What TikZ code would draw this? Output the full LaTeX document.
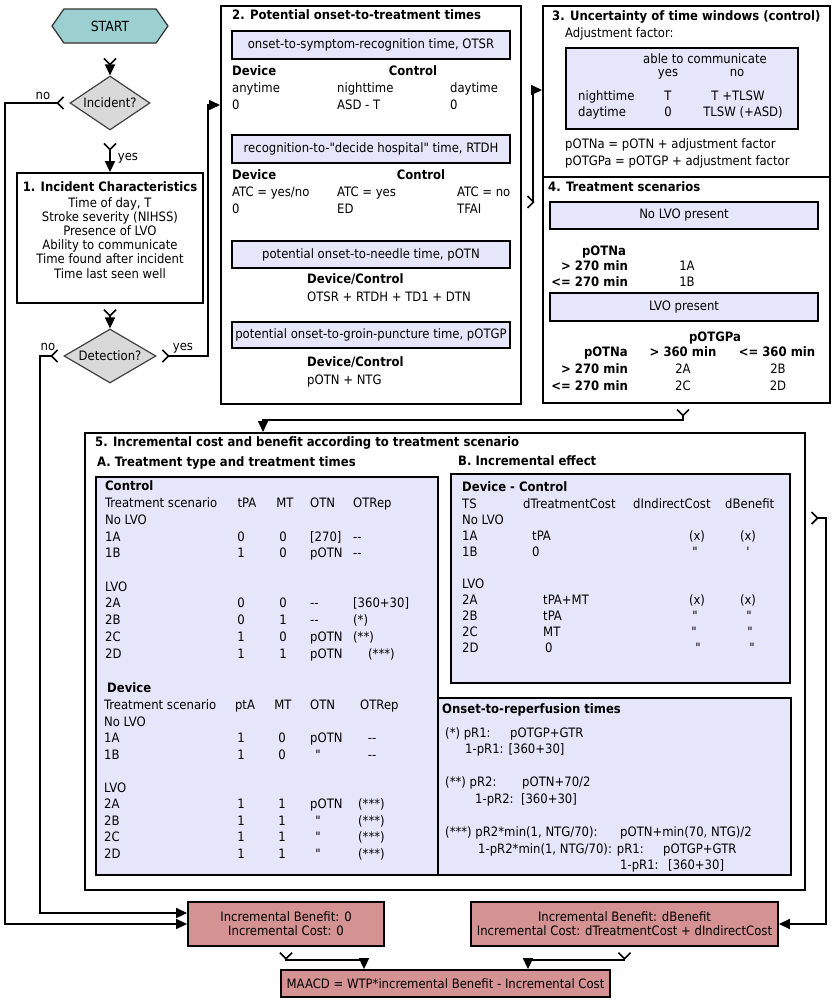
\documentclass[tikz,border=0pt]{standalone}
\usepackage{fontspec}
\setmainfont{DejaVu Sans Condensed}[Ligatures=TeXOff]
\usetikzlibrary{arrows.meta,shapes}

\definecolor{bandfill}{RGB}{230,230,250}
\definecolor{startfill}{RGB}{155,207,208}
\definecolor{decfill}{RGB}{217,217,217}
\definecolor{resfill}{RGB}{212,146,146}

\newcommand{\basefont}{\fontsize{13}{14.2}\selectfont}
\newcommand{\dq}{\symbol{34}}

\tikzset{
  box/.style={draw, line width=1.8bp, inner sep=0pt},
  band/.style={box, fill=bandfill},
  res/.style={box, fill=resfill, align=center, minimum height=44bp},
  dec/.style={diamond, draw=black!75, line width=1.2bp, fill=decfill, aspect=1.5, inner sep=0pt},
  startbox/.style={signal, signal to=west and east, signal pointer angle=110, draw=black!80, line width=1.2bp, fill=startfill, minimum width=116bp, minimum height=34bp, font=\fontsize{14}{16}\selectfont},
  lb/.style={inner sep=0pt, anchor=west, text height=9bp, text depth=3bp},
  lbc/.style={lb, anchor=center},
  hd/.style={lb, font=\basefont\bfseries},
  flow/.style={line width=1.6bp, shorten <=5bp, {Straight Barb[reversed,length=6bp,width=12bp]}-{Triangle[length=11bp,width=10bp]}}
}

\begin{document}
\begin{tikzpicture}[x=1bp, y=-1bp, font=\basefont]
	\useasboundingbox (0,0) rectangle (835,1001);

	% left column
	\node[startbox] (start) at (110,26) {START};
	\node[dec, minimum width=80bp, minimum height=54bp] (inc) at (110,103) {Incident?};
	\node[box, minimum width=186bp, minimum height=130bp] (chars) at (110,238) {};
	\node[align=center, inner sep=0pt] (charstxt) at (110,230) {\textbf{1. Incident Characteristics}\\[1.5bp] Time of day, T\\ Stroke severity (NIHSS)\\ Presence of LVO\\ Ability to communicate\\ Time found after incident\\ Time last seen well};
	\node[dec, minimum width=92bp, minimum height=54bp] (det) at (110,356) {Detection?};

	% 2. onset-to-treatment
	\node[box, minimum width=300bp, minimum height=398bp, anchor=north west] (pot) at (220,5) {};
	\node[hd] (potT) at (232,16) {2. Potential onset-to-treatment times};
	\node[band, minimum width=278bp, minimum height=28bp] (otsr) at (371,45) {onset-to-symptom-recognition time, OTSR};
	\node[hd] (otsrD) at (232,72) {Device};
	\node[hd, anchor=center] (otsrC) at (413,72) {Control};
	\node[lb] (otsrDa) at (232,89) {anytime};
	\node[lb] (otsrCn) at (337,89) {nighttime};
	\node[lb] (otsrCd) at (450,89) {daytime};
	\node[lb] (otsrDv) at (232,106) {0};
	\node[lb] (otsrCnv) at (337,106) {ASD - T};
	\node[lb] (otsrCdv) at (450,106) {0};
	\node[band, minimum width=278bp, minimum height=28bp] (rtdh) at (371,149) {recognition-to-\dq decide hospital\dq{} time, RTDH};
	\node[hd] (rtdhD) at (232,176) {Device};
	\node[hd, anchor=center] (rtdhC) at (421,176) {Control};
	\node[lb] (rtdhDa) at (232,193) {ATC = yes/no};
	\node[lb] (rtdhCy) at (337,193) {ATC = yes};
	\node[lb] (rtdhCn) at (457,193) {ATC = no};
	\node[lb] (rtdhDv) at (232,210) {0};
	\node[lb] (rtdhCyv) at (337,210) {ED};
	\node[lb] (rtdhCnv) at (457,210) {TFAI};
	\node[band, minimum width=278bp, minimum height=27bp] (potn) at (371,254.5) {potential onset-to-needle time, pOTN};
	\node[hd] (potnD) at (307,280) {Device/Control};
	\node[lb] (potnF) at (307,298) {OTSR + RTDH + TD1 + DTN};
	\node[band, minimum width=278bp, minimum height=26bp] (potgp) at (371,335) {potential onset-to-groin-puncture time, pOTGP};
	\node[hd] (potgpD) at (307,363) {Device/Control};
	\node[lb] (potgpF) at (307,381) {pOTN + NTG};

	% 3. uncertainty
	\node[box, minimum width=287bp, minimum height=171bp, anchor=north west] (unc) at (542,5) {};
	\node[hd] (uncT) at (552,17) {3. Uncertainty of time windows (control)};
	\node[lb] (adjT) at (565,34) {Adjustment factor:};
	\node[band, minimum width=232bp, minimum height=81bp, anchor=north west] (adj) at (565,47) {};
	\node[lbc] (adjH) at (705,60) {able to communicate};
	\node[lbc] (adjY) at (668,73) {yes};
	\node[lbc] (adjN) at (737,73) {no};
	\node[lb] (adjR1) at (578,97) {nighttime};
	\node[lbc] (adjR1y) at (668,97) {T};
	\node[lbc] (adjR1n) at (738,97) {T +TLSW};
	\node[lb] (adjR2) at (578,113) {daytime};
	\node[lbc] (adjR2y) at (668,113) {0};
	\node[lbc] (adjR2n) at (743,113) {TLSW (+ASD)};
	\node[lb] (adjF1) at (565,145) {pOTNa = pOTN + adjustment factor};
	\node[lb] (adjF2) at (565,162) {pOTGPa = pOTGP + adjustment factor};

	% 4. scenarios
	\node[box, minimum width=287bp, minimum height=226bp, anchor=north west] (scen) at (542,176) {};
	\node[hd] (scenT) at (548,188) {4. Treatment scenarios};
	\node[band, minimum width=268bp, minimum height=27bp] (nolvo) at (684,215.5) {No LVO present};
	\node[hd, anchor=center] (s1H) at (604,252) {pOTNa};
	\node[hd, anchor=east] (s1R1) at (628,267) {> 270 min};
	\node[lbc] (s1A) at (687,267) {1A};
	\node[hd, anchor=east] (s1R2) at (628,283) {<= 270 min};
	\node[lbc] (s1B) at (687,283) {1B};
	\node[band, minimum width=268bp, minimum height=28bp] (lvo) at (684,307) {LVO present};
	\node[hd, anchor=center] (s2H) at (715,338) {pOTGPa};
	\node[hd, anchor=east] (s2Hr) at (628,353) {pOTNa};
	\node[hd, anchor=center] (s2H1) at (683,353) {> 360 min};
	\node[hd, anchor=center] (s2H2) at (777,353) {<= 360 min};
	\node[hd, anchor=east] (s2R1) at (628,370) {> 270 min};
	\node[lbc] (s2A) at (683,370) {2A};
	\node[lbc] (s2B) at (778,370) {2B};
	\node[hd, anchor=east] (s2R2) at (628,387) {<= 270 min};
	\node[lbc] (s2C) at (683,387) {2C};
	\node[lbc] (s2D) at (778,387) {2D};

	% 5. incremental cost and benefit
	\node[box, minimum width=720bp, minimum height=457bp, anchor=north west] (incr) at (84,432) {};
	\node[hd] (incrT) at (95,443) {5. Incremental cost and benefit according to treatment scenario};
	\node[hd] (tabAT) at (97,463) {A. Treatment type and treatment times};
	\node[hd] (tabBT) at (458,462) {B. Incremental effect};
	\node[band, minimum width=342bp, minimum height=398bp, anchor=north west] (tabA) at (95,476) {};
	\node[band, minimum width=339bp, minimum height=209bp, anchor=north west] (tabB) at (450,473) {};
	\node[band, minimum width=353bp, minimum height=177bp, anchor=north west] (tabC) at (437,697) {};

	% A. control
	\node[hd] (ctl) at (105,487) {Control};
	\node[lb] (ctlH1) at (105,504) {Treatment scenario};
	\node[lbc] (ctlH2) at (247,504) {tPA};
	\node[lbc] (ctlH3) at (285,504) {MT};
	\node[lb] (ctlH4) at (310,504) {OTN};
	\node[lb] (ctlH5) at (353,504) {OTRep};
	\node[lb] (ctlN) at (105,521) {No LVO};
	\node[lb] (ctl1A) at (105,538) {1A};
	\node[lbc] (ctl1Aa) at (241,538) {0};
	\node[lbc] (ctl1Ab) at (283,538) {0};
	\node[lb] (ctl1Ac) at (310,538) {[270]};
	\node[lb] (ctl1Ad) at (353,538) {-{}-};
	\node[lb] (ctl1B) at (105,554) {1B};
	\node[lbc] (ctl1Ba) at (241,554) {1};
	\node[lbc] (ctl1Bb) at (283,554) {0};
	\node[lb] (ctl1Bc) at (310,554) {pOTN};
	\node[lb] (ctl1Bd) at (353,554) {-{}-};
	\node[lb] (ctlL) at (105,588) {LVO};
	\node[lb] (ctl2A) at (105,604) {2A};
	\node[lbc] (ctl2Aa) at (241,604) {0};
	\node[lbc] (ctl2Ab) at (283,604) {0};
	\node[lb] (ctl2Ac) at (310,604) {-{}-};
	\node[lb] (ctl2Ad) at (353,604) {[360+30]};
	\node[lb] (ctl2B) at (105,621) {2B};
	\node[lbc] (ctl2Ba) at (241,621) {0};
	\node[lbc] (ctl2Bb) at (283,621) {1};
	\node[lb] (ctl2Bc) at (310,621) {-{}-};
	\node[lb] (ctl2Bd) at (353,621) {(*)};
	\node[lb] (ctl2C) at (105,638) {2C};
	\node[lbc] (ctl2Ca) at (241,638) {1};
	\node[lbc] (ctl2Cb) at (283,638) {0};
	\node[lb] (ctl2Cc) at (310,638) {pOTN};
	\node[lb] (ctl2Cd) at (353,638) {(**)};
	\node[lb] (ctl2D) at (105,655) {2D};
	\node[lbc] (ctl2Da) at (241,655) {1};
	\node[lbc] (ctl2Db) at (283,655) {1};
	\node[lb] (ctl2Dc) at (310,655) {pOTN};
	\node[lb] (ctl2Dd) at (368,655) {(***)};

	% A. device
	\node[hd] (dev) at (107,689) {Device};
	\node[lb] (devH1) at (104,706) {Treatment scenario};
	\node[lbc] (devH2) at (245,706) {ptA};
	\node[lbc] (devH3) at (283,706) {MT};
	\node[lb] (devH4) at (310,706) {OTN};
	\node[lb] (devH5) at (360,706) {OTRep};
	\node[lb] (devN) at (104,723) {No LVO};
	\node[lb] (dev1A) at (104,739) {1A};
	\node[lbc] (dev1Aa) at (241,739) {1};
	\node[lbc] (dev1Ab) at (282,739) {0};
	\node[lb] (dev1Ac) at (310,739) {pOTN};
	\node[lbc] (dev1Ad) at (372,739) {-{}-};
	\node[lb] (dev1B) at (104,756) {1B};
	\node[lbc] (dev1Ba) at (241,756) {1};
	\node[lbc] (dev1Bb) at (282,756) {0};
	\node[lbc] (dev1Bc) at (318,756) {\dq};
	\node[lbc] (dev1Bd) at (372,756) {-{}-};
	\node[lb] (devL) at (104,789) {LVO};
	\node[lb] (dev2A) at (104,805) {2A};
	\node[lbc] (dev2Aa) at (241,805) {1};
	\node[lbc] (dev2Ab) at (282,805) {1};
	\node[lb] (dev2Ac) at (310,805) {pOTN};
	\node[lb] (dev2Ad) at (358,805) {(***)};
	\node[lb] (dev2B) at (104,822) {2B};
	\node[lbc] (dev2Ba) at (241,822) {1};
	\node[lbc] (dev2Bb) at (282,822) {1};
	\node[lbc] (dev2Bc) at (318,822) {\dq};
	\node[lb] (dev2Bd) at (358,822) {(***)};
	\node[lb] (dev2C) at (104,838) {2C};
	\node[lbc] (dev2Ca) at (241,838) {1};
	\node[lbc] (dev2Cb) at (282,838) {1};
	\node[lbc] (dev2Cc) at (318,838) {\dq};
	\node[lb] (dev2Cd) at (358,838) {(***)};
	\node[lb] (dev2D) at (104,855) {2D};
	\node[lbc] (dev2Da) at (241,855) {1};
	\node[lbc] (dev2Db) at (282,855) {1};
	\node[lbc] (dev2Dc) at (318,855) {\dq};
	\node[lb] (dev2Dd) at (358,855) {(***)};

	% B. device - control
	\node[hd] (dmc) at (462,488) {Device - Control};
	\node[lb] (dmcH1) at (462,505) {TS};
	\node[lb] (dmcH2) at (523,505) {dTreatmentCost};
	\node[lb] (dmcH3) at (633,505) {dIndirectCost};
	\node[lb] (dmcH4) at (725,505) {dBenefit};
	\node[lb] (dmcN) at (462,521) {No LVO};
	\node[lb] (dmc1A) at (462,537) {1A};
	\node[lb] (dmc1Aa) at (532,537) {tPA};
	\node[lbc] (dmc1Ab) at (697,537) {(x)};
	\node[lbc] (dmc1Ac) at (748,537) {(x)};
	\node[lb] (dmc1B) at (462,553) {1B};
	\node[lb] (dmc1Ba) at (532,553) {0};
	\node[lbc] (dmc1Bb) at (695,553) {\dq};
	\node[lbc] (dmc1Bc) at (748,553) {\symbol{39}};
	\node[lb] (dmcL) at (462,585) {LVO};
	\node[lb] (dmc2A) at (462,601) {2A};
	\node[lb] (dmc2Aa) at (543,601) {tPA+MT};
	\node[lbc] (dmc2Ab) at (697,601) {(x)};
	\node[lbc] (dmc2Ac) at (748,601) {(x)};
	\node[lb] (dmc2B) at (462,617) {2B};
	\node[lb] (dmc2Ba) at (543,617) {tPA};
	\node[lbc] (dmc2Bb) at (695,617) {\dq};
	\node[lbc] (dmc2Bc) at (749,617) {\dq};
	\node[lb] (dmc2C) at (462,633) {2C};
	\node[lb] (dmc2Ca) at (543,633) {MT};
	\node[lbc] (dmc2Cb) at (694,633) {\dq};
	\node[lbc] (dmc2Cc) at (750,633) {\dq};
	\node[lb] (dmc2D) at (462,649) {2D};
	\node[lb] (dmc2Da) at (545,649) {0};
	\node[lbc] (dmc2Db) at (698,649) {\dq};
	\node[lbc] (dmc2Dc) at (752,649) {\dq};

	% onset-to-reperfusion
	\node[hd] (otr) at (442,710) {Onset-to-reperfusion times};
	\node[lb] (otr1) at (445,734) {(*) pR1:};
	\node[lb] (otr1v) at (510,734) {pOTGP+GTR};
	\node[lb] (otr2) at (465,750) {1-pR1: [360+30]};
	\node[lb] (otr3) at (445,783) {(**) pR2:};
	\node[lb] (otr3v) at (522,783) {pOTN+70/2};
	\node[lb] (otr4) at (475,800) {1-pR2:\ \ [360+30]};
	\node[lb] (otr5) at (445,833) {(***) pR2*min(1, NTG/70):};
	\node[lb] (otr5v) at (620,833) {pOTN+min(70, NTG)/2};
	\node[lb] (otr6) at (478,850) {1-pR2*min(1, NTG/70): pR1:};
	\node[lb] (otr6v) at (663,850) {pOTGP+GTR};
	\node[lb] (otr7) at (620,866) {1-pR1:};
	\node[lb] (otr7v) at (668,866) {[360+30]};

	% results
	\node[res, minimum width=196bp] (res0) at (286,924) {Incremental Benefit: 0\\Incremental Cost: 0};
	\node[res, minimum width=307bp] (res1) at (624.5,924) {Incremental Benefit: dBenefit\\Incremental Cost: dTreatmentCost + dIndirectCost};
	\node[box, fill=resfill, minimum width=329bp, minimum height=27bp] (maacd) at (445.5,983.5) {MAACD = WTP*incremental Benefit - Incremental Cost};

	% connectors
	\draw[flow, shorten <=14bp] (start) -- (inc);
	\draw[flow, shorten <=12bp] (inc) -- (chars);
	\draw[flow] (chars) -- (det);
	\draw[flow] (inc.west) -| (5,924) -- (res0.west);
	\draw[flow] (det.west) -| (40,913) -- ([yshift=11bp]res0.west);
	\draw[flow] (det.east) -| (208,105) -- (pot.west |- 0,105);
	\draw[flow] (pot.east |- 0,202) -| (533,90) -- (unc.west |- 0,90);
	\draw[flow] (scen.south -| 683,0) |- (263,420) -- (incr.north -| 263,0);
	\draw[flow] (incr.east |- 0,518) -| (826,924) -- (res1.east);
	\draw[flow] (res0.south) |- (364,960) -- (maacd.north -| 364,0);
	\draw[flow] (res1.south) |- (528,960) -- (maacd.north -| 528,0);

	\node[lbc] (noInc) at (43,96) {no};
	\node[lbc] (yesInc) at (128,157) {yes};
	\node[lbc] (noDet) at (48,347) {no};
	\node[lbc] (yesDet) at (183,347) {yes};
\end{tikzpicture}
\end{document}
